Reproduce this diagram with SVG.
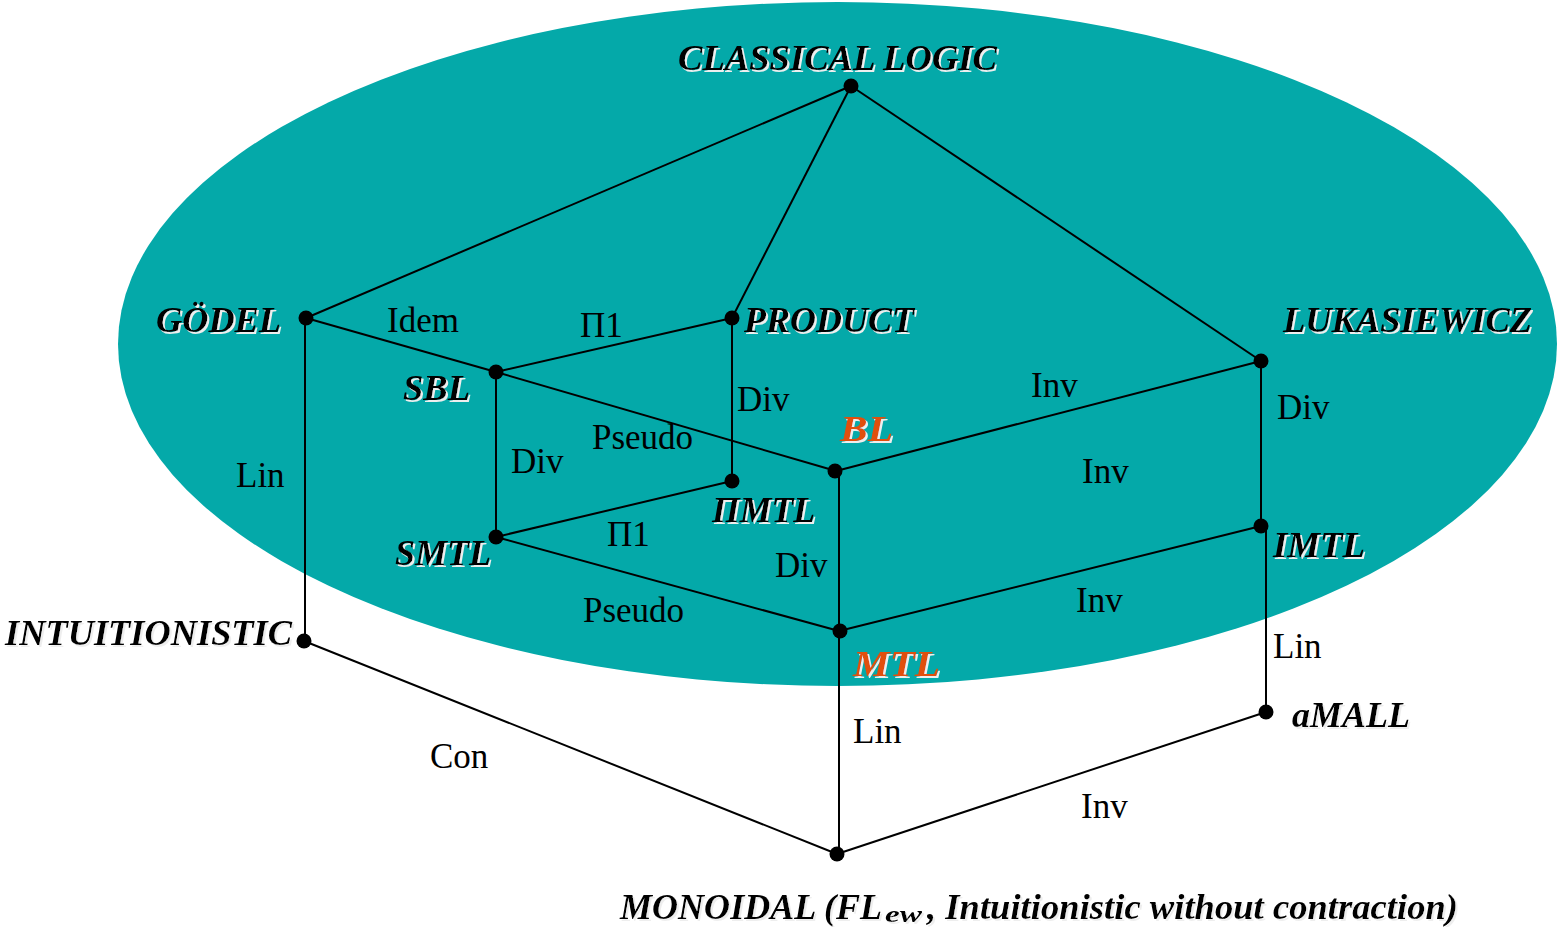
<svg xmlns="http://www.w3.org/2000/svg" width="1558" height="927" viewBox="0 0 1558 927">
<defs>
<filter id="sh" x="-5%" y="-20%" width="110%" height="140%">
<feFlood flood-color="#eeeeee" result="c"/>
<feComposite in="c" in2="SourceAlpha" operator="in" result="s"/>
<feOffset in="s" dx="1.6" dy="1.6" result="o"/>
<feMerge><feMergeNode in="o"/><feMergeNode in="SourceGraphic"/></feMerge>
</filter>
</defs>
<style>
.n{font-family:"Liberation Serif","Times New Roman",serif;font-weight:bold;font-style:italic;font-size:36px;fill:#000;filter:url(#sh)}
.o{fill:#E0500A}
.l{font-family:"Liberation Serif","Times New Roman",serif;font-size:35px;fill:#000}
.e{stroke:#000;stroke-width:2;fill:none}
.d{fill:#000}
</style>
<rect width="1558" height="927" fill="#fff"/>
<ellipse cx="837.5" cy="344" rx="719.5" ry="342" fill="#04A9A9"/>
<g id="connectors" class="e">
<line x1="851" y1="86" x2="306" y2="318"/>
<line x1="851" y1="86" x2="732" y2="318"/>
<line x1="851" y1="86" x2="1261" y2="361"/>
<line x1="306" y1="318" x2="496" y2="372"/>
<line x1="496" y1="372" x2="836" y2="471"/>
<line x1="496" y1="372" x2="732" y2="318"/>
<line x1="732" y1="318" x2="732" y2="481"/>
<line x1="496" y1="372" x2="496" y2="537"/>
<line x1="496" y1="537" x2="732" y2="481"/>
<line x1="836" y1="471" x2="1261" y2="361"/>
<line x1="1261" y1="361" x2="1261" y2="526"/>
<line x1="839" y1="471" x2="839" y2="631"/>
<line x1="496" y1="537" x2="839" y2="631"/>
<line x1="839" y1="631" x2="1261" y2="526"/>
<line x1="305" y1="318" x2="305" y2="641"/>
<line x1="1266" y1="526" x2="1266" y2="712"/>
<line x1="839" y1="631" x2="839" y2="854"/>
<line x1="304" y1="641" x2="837" y2="854"/>
<line x1="1266" y1="712" x2="837" y2="854"/>
</g>
<g id="edge-labels" class="l">
<text x="387" y="332">Idem</text>
<text x="580" y="337">Π1</text>
<text x="737" y="411">Div</text>
<text x="1031" y="397">Inv</text>
<text x="1277" y="419">Div</text>
<text x="592" y="449">Pseudo</text>
<text x="511" y="473">Div</text>
<text x="1082" y="483">Inv</text>
<text x="236" y="487">Lin</text>
<text x="607" y="546">Π1</text>
<text x="775" y="577">Div</text>
<text x="583" y="622">Pseudo</text>
<text x="1076" y="612">Inv</text>
<text x="1273" y="658">Lin</text>
<text x="853" y="743">Lin</text>
<text x="430" y="768">Con</text>
<text x="1081" y="818">Inv</text>
</g>
<g id="classical"><circle class="d" cx="851" cy="86" r="7.5"/><text class="n" x="678" y="70" textLength="319" lengthAdjust="spacingAndGlyphs">CLASSICAL LOGIC</text></g>
<g id="godel"><circle class="d" cx="306" cy="318" r="7.5"/><text class="n" x="156" y="332" textLength="125" lengthAdjust="spacingAndGlyphs">GÖDEL</text></g>
<g id="product"><circle class="d" cx="732" cy="318" r="7.5"/><text class="n" x="744" y="332" textLength="170" lengthAdjust="spacingAndGlyphs">PRODUCT</text></g>
<g id="lukasiewicz"><circle class="d" cx="1261" cy="361" r="7.5"/><text class="n" x="1283" y="332" textLength="249" lengthAdjust="spacingAndGlyphs">LUKASIEWICZ</text></g>
<g id="sbl"><circle class="d" cx="496" cy="372" r="7.5"/><text class="n" x="403" y="400" textLength="67" lengthAdjust="spacingAndGlyphs">SBL</text></g>
<g id="bl"><circle class="d" cx="835" cy="471" r="7.5"/><text class="n o" x="840" y="441" textLength="53" lengthAdjust="spacingAndGlyphs">BL</text></g>
<g id="pimtl"><circle class="d" cx="732" cy="481" r="7.5"/><text class="n" x="712" y="522" textLength="103" lengthAdjust="spacingAndGlyphs">ΠMTL</text></g>
<g id="smtl"><circle class="d" cx="496" cy="537" r="7.5"/><text class="n" x="395" y="565" textLength="96" lengthAdjust="spacingAndGlyphs">SMTL</text></g>
<g id="imtl"><circle class="d" cx="1261" cy="526" r="7.5"/><text class="n" x="1273" y="557" textLength="92" lengthAdjust="spacingAndGlyphs">IMTL</text></g>
<g id="mtl"><circle class="d" cx="840" cy="631" r="7.5"/><text class="n o" x="853" y="676" textLength="87" lengthAdjust="spacingAndGlyphs">MTL</text></g>
<g id="intuitionistic"><circle class="d" cx="304" cy="641" r="7.5"/><text class="n" x="5" y="645" textLength="287" lengthAdjust="spacingAndGlyphs">INTUITIONISTIC</text></g>
<g id="amall"><circle class="d" cx="1266" cy="712" r="7.5"/><text class="n" x="1292" y="727" textLength="118" lengthAdjust="spacingAndGlyphs">aMALL</text></g>
<g id="monoidal"><circle class="d" cx="837" cy="854" r="7.5"/>
<text class="n" x="620" y="919" textLength="262" lengthAdjust="spacingAndGlyphs">MONOIDAL (FL</text>
<text class="n" x="885" y="922" style="font-size:24px" textLength="37" lengthAdjust="spacingAndGlyphs">ew</text>
<text class="n" x="927" y="919" textLength="531" lengthAdjust="spacingAndGlyphs">, Intuitionistic without contraction)</text>
</g>
</svg>
